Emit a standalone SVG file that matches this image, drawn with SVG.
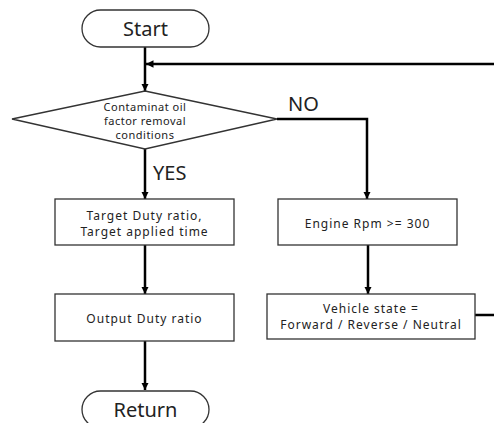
<svg xmlns="http://www.w3.org/2000/svg" width="494" height="423" viewBox="0 0 494 423">
<style>
.shape{fill:#fff;stroke:#333;stroke-width:1.3}
.conn{fill:none;stroke:#000;stroke-width:2.5}
.t{font-family:"Noto Sans","Open Sans",sans-serif;fill:#222;text-anchor:middle}
.s{font-size:12px;letter-spacing:1px}
.d{font-size:11px;letter-spacing:0.5px}
.b{font-size:20px}
.l{font-size:20px;text-anchor:start}
</style>
<defs>
<marker id="ah" viewBox="0 0 10 10" refX="10" refY="5" markerWidth="3" markerHeight="3.2" orient="auto" markerUnits="strokeWidth">
<path d="M0,0 L10,5 L0,10 z" fill="#000"/>
</marker>
</defs>
<g id="connectors">
<path class="conn" d="M145,47 V91" marker-end="url(#ah)"/>
<path class="conn" d="M475,315 H500 V64 H146" marker-end="url(#ah)"/>
<path class="conn" d="M277,119 H367 V199" marker-end="url(#ah)"/>
<path class="conn" d="M145,149 V199" marker-end="url(#ah)"/>
<path class="conn" d="M145,245 V294" marker-end="url(#ah)"/>
<path class="conn" d="M368,245 V294" marker-end="url(#ah)"/>
<path class="conn" d="M145,341 V390" marker-end="url(#ah)"/>
<text class="t l" x="288" y="111">NO</text>
<text class="t l" x="153" y="180">YES</text>
</g>
<g id="start">
<rect class="shape" x="82" y="10" width="127" height="37" rx="18.5"/>
<text class="t b" x="145.5" y="36">Start</text>
</g>
<g id="decision">
<polygon class="shape" points="145,91 277,119 145,149 12,119"/>
<text class="t d" x="145" y="111">Contaminat oil</text>
<text class="t d" x="145" y="125">factor removal</text>
<text class="t d" x="145" y="139">conditions</text>
</g>
<g id="target">
<rect class="shape" x="55" y="199" width="179" height="46"/>
<text class="t s" x="144.5" y="220">Target Duty ratio,</text>
<text class="t s" x="144.5" y="236">Target applied time</text>
</g>
<g id="engine">
<rect class="shape" x="278" y="199" width="179" height="46"/>
<text class="t s" x="367.5" y="228">Engine Rpm &gt;= 300</text>
</g>
<g id="output">
<rect class="shape" x="55" y="294" width="179" height="47"/>
<text class="t s" x="144.5" y="323">Output Duty ratio</text>
</g>
<g id="vehicle">
<rect class="shape" x="267" y="294" width="208" height="45"/>
<text class="t s" x="371" y="313">Vehicle state =</text>
<text class="t s" x="371" y="329">Forward / Reverse / Neutral</text>
</g>
<g id="return">
<rect class="shape" x="82" y="391" width="127" height="37" rx="18.5"/>
<text class="t b" x="145.5" y="417">Return</text>
</g>
</svg>
